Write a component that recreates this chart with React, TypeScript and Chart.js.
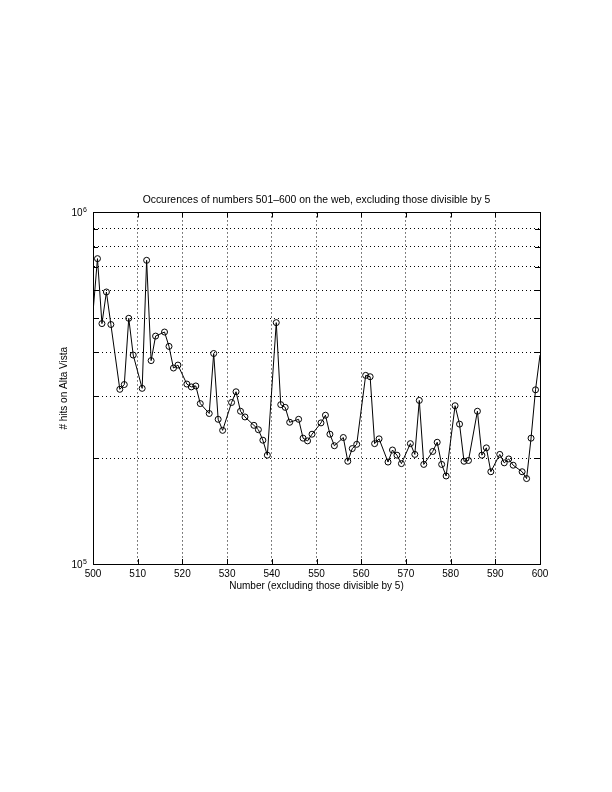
import React, { useEffect, useRef } from "react";
import { Chart, registerables } from "chart.js";

Chart.register(...registerables);

const numbers = [
  500, 501, 502, 503, 504, 506, 507, 508, 509, 511, 512, 513, 514, 516, 517, 518, 519,
  521, 522, 523, 524, 526, 527, 528, 529, 531, 532, 533, 534, 536, 537, 538, 539,
  541, 542, 543, 544, 546, 547, 548, 549, 551, 552, 553, 554, 556, 557, 558, 559,
  561, 562, 563, 564, 566, 567, 568, 569, 571, 572, 573, 574, 576, 577, 578, 579,
  581, 582, 583, 584, 586, 587, 588, 589, 591, 592, 593, 594, 596, 597, 598, 599, 600,
];

const hits = [
  520000, 739000, 483000, 594000, 480000, 314000, 324000, 500000, 393000, 316000, 731000, 379000, 445000, 457000, 416000, 361000, 368000,
  325000, 319000, 321000, 286000, 268000, 397000, 258000, 240000, 288000, 309000, 272000, 262000, 248000, 241000, 225000, 204000,
  486000, 284000, 279000, 253000, 258000, 228000, 224000, 234000, 252000, 265000, 234000, 217000, 229000, 196000, 213000, 219000,
  344000, 341000, 220000, 227000, 195000, 211000, 204000, 193000, 220000, 205000, 292000, 192000, 209000, 222000, 192000, 178000,
  282000, 250000, 196000, 197000, 272000, 204000, 214000, 183000, 205000, 194000, 199000, 191000, 183000, 175000, 228000, 313000, 393000,
];

const xTicks = [500, 510, 520, 530, 540, 550, 560, 570, 580, 590, 600];
const yTicks = [100000, 200000, 300000, 400000, 500000, 600000, 700000, 800000, 900000, 1000000];
const yLabelValues = [100000, 1000000];
const yLabelExponents = ["5", "6"];

const titleText = "Occurences of numbers 501\u2013600 on the web, excluding those divisible by 5";
const xTitle = "Number (excluding those divisible by 5)";
const yTitle = "# hits on Alta Vista";

const FONT = "'Liberation Sans', Arial, Helvetica, sans-serif";

const framePlugin = {
  id: "matlabFrame",
  afterDraw(chart: any) {
    const { ctx, chartArea } = chart;
    const { left, right, top, bottom } = chartArea;
    const xs = chart.scales.x;
    const ys = chart.scales.y;
    const tl = 5;
    ctx.save();
    ctx.strokeStyle = "#000";
    ctx.lineWidth = 1;
    ctx.setLineDash([]);
    ctx.strokeRect(Math.round(left) + 0.5, Math.round(top) + 0.5, Math.round(right - left), Math.round(bottom - top));
    ctx.beginPath();
    xTicks.forEach((v) => {
      const px = Math.round(xs.getPixelForValue(v)) + 0.5;
      ctx.moveTo(px, bottom);
      ctx.lineTo(px, bottom - tl);
      ctx.moveTo(px, top);
      ctx.lineTo(px, top + tl);
    });
    yTicks.forEach((v) => {
      const py = Math.round(ys.getPixelForValue(v)) + 0.5;
      ctx.moveTo(left, py);
      ctx.lineTo(left + tl, py);
      ctx.moveTo(right, py);
      ctx.lineTo(right - tl, py);
    });
    ctx.stroke();
    ctx.fillStyle = "#000";
    yLabelValues.forEach((v, i) => {
      const py = ys.getPixelForValue(v);
      ctx.font = `7px ${FONT}`;
      const supW = ctx.measureText(yLabelExponents[i]).width;
      const supX = left - 6 - supW;
      ctx.textAlign = "left";
      ctx.textBaseline = "alphabetic";
      ctx.fillText(yLabelExponents[i], supX, py);
      ctx.font = `10px ${FONT}`;
      ctx.textAlign = "right";
      ctx.fillText("10", supX - 0.5, py + 4);
    });
    ctx.restore();
  },
};

export default function App() {
  const ref = useRef<HTMLCanvasElement | null>(null);

  useEffect(() => {
    if (!ref.current) return;
    Chart.defaults.font.family = FONT;
    Chart.defaults.font.size = 10;
    Chart.defaults.color = "#000";
    const data = numbers.map((n, i) => ({ x: n, y: hits[i] }));
    const chart = new Chart(ref.current, {
      type: "line",
      data: {
        datasets: [
          {
            data,
            borderColor: "#000",
            borderWidth: 1,
            backgroundColor: "rgba(0,0,0,0)",
            pointBackgroundColor: "rgba(0,0,0,0)",
            pointBorderColor: "#000",
            pointBorderWidth: 1,
            pointRadius: numbers.map((n) => (n % 5 === 0 ? 0 : 3)),
            pointStyle: "circle",
            tension: 0,
            fill: false,
          },
        ],
      },
      options: {
        animation: false,
        responsive: false,
        devicePixelRatio: 1,
        layout: { padding: { top: 194, left: 0, right: 72, bottom: 200 } },
        plugins: {
          legend: { display: false },
          tooltip: { enabled: false },
          title: {
            display: true,
            fullSize: false,
            text: titleText,
            color: "#000",
            font: { family: FONT, size: 10.4, weight: "normal" },
            padding: { top: 0, bottom: 6 },
          },
        },
        scales: {
          x: {
            type: "linear",
            min: 500,
            max: 600,
            afterBuildTicks: (s: any) => {
              s.ticks = xTicks.map((v) => ({ value: v }));
            },
            afterFit: (s: any) => {
              s.height = 28;
            },
            ticks: {
              padding: 4,
              color: "#000",
              font: { family: FONT, size: 10 },
              maxRotation: 0,
              autoSkip: false,
            },
            grid: { color: "#000", lineWidth: 1, drawTicks: false },
            border: { display: true, color: "#000", width: 1, dash: [1, 3] },
            title: {
              display: true,
              text: xTitle,
              color: "#000",
              font: { family: FONT, size: 10 },
              padding: { top: 0, bottom: 0 },
            },
          },
          y: {
            type: "logarithmic",
            min: 100000,
            max: 1000000,
            afterBuildTicks: (s: any) => {
              s.ticks = yTicks.map((v) => ({ value: v }));
            },
            afterFit: (s: any) => {
              s.width = 93;
            },
            ticks: { display: false },
            grid: { color: "#000", lineWidth: 1, drawTicks: false },
            border: { display: true, color: "#000", width: 1, dash: [1, 3] },
            title: {
              display: true,
              text: yTitle,
              color: "#000",
              font: { family: FONT, size: 10 },
              padding: { top: 58, bottom: 0 },
            },
          },
        },
      },
      plugins: [framePlugin],
    });
    return () => chart.destroy();
  }, []);

  return (
    <div style={{ position: "absolute", left: 0, top: 0, width: 612, height: 792, background: "#fff" }}>
      <canvas ref={ref} width={612} height={792} style={{ width: 612, height: 792, display: "block" }} />
    </div>
  );
}
